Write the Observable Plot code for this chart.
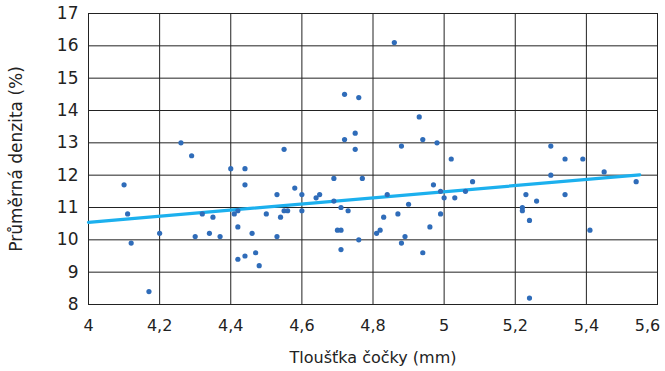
<!DOCTYPE html>
<html>
<head>
<meta charset="utf-8">
<script src="https://cdn.jsdelivr.net/npm/d3@7"></script>
<script src="https://cdn.jsdelivr.net/npm/@observablehq/plot@0.6"></script>
<style>
  html, body { margin: 0; padding: 0; background: #fff; }
  #chart svg { display: block; }
</style>
</head>
<body>
<div id="chart"></div>
<script>
const thickness = [4.10,4.11,4.12,4.17,4.20,4.26,4.29,4.30,4.32,4.34,4.35,4.37,4.40,4.41,4.42,4.42,4.42,4.44,4.44,4.44,4.46,4.47,4.48,4.50,4.53,4.53,4.54,4.55,4.55,4.56,4.58,4.60,4.60,4.64,4.65,4.69,4.69,4.70,4.71,4.71,4.71,4.72,4.72,4.73,4.75,4.75,4.76,4.76,4.77,4.81,4.82,4.83,4.84,4.86,4.87,4.88,4.88,4.89,4.90,4.93,4.94,4.94,4.96,4.97,4.98,4.99,4.99,5.00,5.02,5.03,5.06,5.08,5.22,5.22,5.23,5.24,5.24,5.26,5.30,5.30,5.34,5.34,5.39,5.41,5.45,5.54];
const density = [11.70,10.80,9.90,8.40,10.20,13.00,12.60,10.10,10.80,10.20,10.70,10.10,12.20,10.80,10.90,10.40,9.40,12.20,11.70,9.50,10.20,9.60,9.20,10.80,11.40,10.10,10.70,12.80,10.90,10.90,11.60,11.40,10.90,11.30,11.40,11.90,11.20,10.30,10.30,11.00,9.70,14.50,13.10,10.90,13.30,12.80,14.40,10.00,11.90,10.20,10.30,10.70,11.40,16.10,10.80,12.90,9.90,10.10,11.10,13.80,13.10,9.60,10.40,11.70,13.00,11.50,10.80,11.30,12.50,11.30,11.50,11.80,11.00,10.90,11.40,10.60,8.20,11.20,12.90,12.00,12.50,11.40,12.50,10.30,12.10,11.80];
const trendX = [4.0, 5.55];
const trendY = [10.54, 12.01];
const xTicks = [4,4.2,4.4,4.6,4.8,5,5.2,5.4,5.6];
const yTicks = [8,9,10,11,12,13,14,15,16,17];

const points = thickness.map((x, i) => ({x, y: density[i]}));
const trend = trendX.map((x, i) => ({x, y: trendY[i]}));
const fmt = d => String(d).replace(".", ",");
const lastX = xTicks[xTicks.length - 1];

const chart = Plot.plot({
  width: 665,
  height: 371,
  marginLeft: 88,
  marginRight: 8,
  marginTop: 13,
  marginBottom: 67,
  style: {fontFamily: "'DejaVu Sans', sans-serif", fontSize: "16px", color: "#222", background: "#fff"},
  x: {domain: [4, 5.6]},
  y: {domain: [8, 17]},
  marks: [
    Plot.gridX(xTicks, {stroke: "#222", strokeOpacity: 1, strokeWidth: 1}),
    Plot.gridY(yTicks, {stroke: "#222", strokeOpacity: 1, strokeWidth: 1}),
    Plot.frame({stroke: "#222", strokeWidth: 1}),
    Plot.axisX(xTicks.slice(0, -1), {tickFormat: fmt, tickSize: 0, tickPadding: 15, fontSize: 16,
      label: "Tloušťka čočky (mm)", labelAnchor: "center", labelArrow: "none", labelOffset: 58}),
    Plot.axisX([lastX], {tickFormat: fmt, tickSize: 0, tickPadding: 15, fontSize: 16, dx: -10, label: null}),
    Plot.axisY(yTicks, {tickSize: 0, tickPadding: 10, fontSize: 17,
      label: "Průměrná denzita (%)", labelAnchor: "center", labelArrow: "none", labelOffset: 79}),
    Plot.line(trend, {x: "x", y: "y", stroke: "#1cb0ee", strokeWidth: 3.2}),
    Plot.dot(points, {x: "x", y: "y", r: 2.6, fill: "#2f6cb9", stroke: "none"})
  ]
});
document.getElementById("chart").appendChild(chart);
</script>
</body>
</html>
